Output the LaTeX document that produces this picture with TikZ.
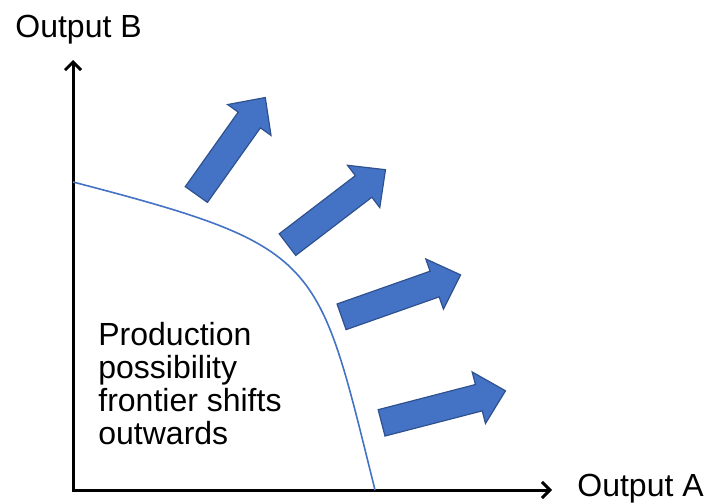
\documentclass[tikz,border=0pt]{standalone}
\usepackage{fontspec}
\setmainfont{Liberation Sans}
\usetikzlibrary{arrows.meta, positioning, shapes.arrows}
\definecolor{shiftblue}{RGB}{68,114,196}
\definecolor{shiftborder}{RGB}{47,82,143}

\begin{document}
\begin{tikzpicture}
    [x=0.5pt, y=-0.5pt,
    axisline/.style={line width=1.5pt, {Straight Barb[length=4pt, width=8pt]}-{Straight Barb[length=4pt, width=8pt]}},
    axislabel/.style={font=\fontsize{16}{16.5}\selectfont, inner sep=0pt},
    frontier/.style={draw=shiftblue, line width=0.8pt},
    shiftarrow/.style={single arrow, draw=shiftborder, fill=shiftblue, line width=0.6pt,
    inner xsep=0pt, inner ysep=6.5pt, single arrow head extend=6.5pt, single arrow tip angle=88,
    anchor=tail}]
    \useasboundingbox (0,0) rectangle (707,503);
    \coordinate (b_end) at (73,60);
    \coordinate (a_end) at (552,490);
    \coordinate (frontier_top) at (73,182);
    \coordinate (frontier_end) at (375,490);

    \node [axislabel, anchor=base west] (output_b) at (15,37) {Output B};
    \node [axislabel, anchor=base west] (output_a) at (577,496) {Output A};
    \node [axislabel, align=left, anchor=north west] (ppf_text) at (98,322)
    {Production\\possibility\\frontier shifts\\outwards};

    \node [shiftarrow, rotate=54.6, minimum height=59.5pt] (shift_one) at (196,195) {};
    \node [shiftarrow, rotate=37.4, minimum height=61.7pt] (shift_two) at (287,245) {};
    \node [shiftarrow, rotate=19.4, minimum height=63.1pt] (shift_three) at (341,317) {};
    \node [shiftarrow, rotate=14.5, minimum height=64pt] (shift_four) at (381,423) {};

    \draw [axisline] (b_end) |- (a_end);
    \draw [frontier] (frontier_top) .. controls (323,247) and (317,257) .. (frontier_end);
  \end{tikzpicture}
\end{document}
